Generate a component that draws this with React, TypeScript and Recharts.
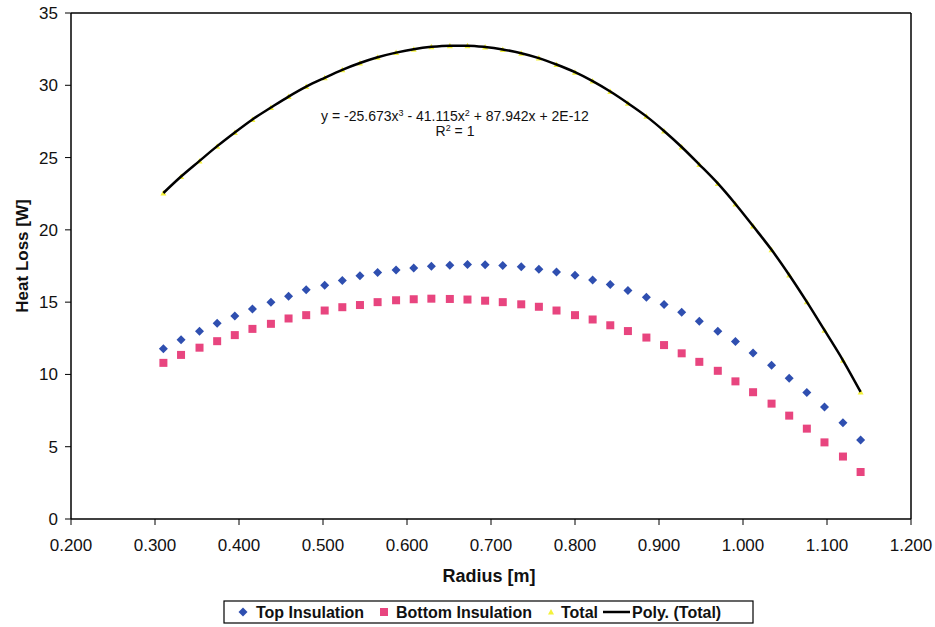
import { ScatterChart, Scatter, XAxis, YAxis, ReferenceLine } from 'recharts'

// radius [m] for each sample
const radius = [
  0.31, 0.331, 0.353, 0.374, 0.395, 0.416, 0.438, 0.459, 0.48, 0.502,
  0.523, 0.544, 0.565, 0.587, 0.608, 0.629, 0.651, 0.672, 0.693, 0.714,
  0.736, 0.757, 0.778, 0.8, 0.821, 0.842, 0.863, 0.885, 0.906, 0.927,
  0.948, 0.97, 0.991, 1.012, 1.034, 1.055, 1.076, 1.097, 1.119, 1.14,
]

const topInsulation = [
  11.78, 12.4, 12.98, 13.54, 14.04, 14.53, 15.0, 15.41, 15.85, 16.17,
  16.49, 16.82, 17.05, 17.22, 17.37, 17.48, 17.56, 17.6, 17.59, 17.53,
  17.45, 17.28, 17.09, 16.86, 16.54, 16.22, 15.8, 15.34, 14.83, 14.3,
  13.68, 12.98, 12.27, 11.48, 10.63, 9.73, 8.75, 7.74, 6.65, 5.47,
]

const bottomInsulation = [
  10.8, 11.35, 11.85, 12.3, 12.72, 13.15, 13.5, 13.87, 14.1, 14.42,
  14.65, 14.8, 15.0, 15.13, 15.2, 15.24, 15.22, 15.18, 15.1, 15.0,
  14.85, 14.68, 14.42, 14.1, 13.8, 13.4, 13.0, 12.55, 12.03, 11.46,
  10.87, 10.25, 9.52, 8.77, 7.98, 7.15, 6.25, 5.3, 4.32, 3.25,
]

const total = [
  22.55, 23.69, 24.77, 25.79, 26.74, 27.64, 28.46, 29.22, 29.91, 30.52,
  31.07, 31.54, 31.94, 32.26, 32.5, 32.66, 32.74, 32.74, 32.65, 32.48,
  32.22, 31.88, 31.44, 30.91, 30.29, 29.57, 28.76, 27.85, 26.84, 25.73,
  24.52, 23.21, 21.79, 20.26, 18.62, 16.88, 15.02, 13.06, 10.98, 8.79,
]

const xTicks = [0.2, 0.3, 0.4, 0.5, 0.6, 0.7, 0.8, 0.9, 1.0, 1.1, 1.2]
const yTicks = [0, 5, 10, 15, 20, 25, 30, 35]

const BLUE = '#2f4fb0'
const PINK = '#e8457f'
const YELLOW = '#f4f23a'
const FONT = '"Liberation Sans", Arial, sans-serif'

const toPoints = (ys: number[]) => radius.map((x, i) => ({ x, y: ys[i] }))

const Diamond = ({ cx, cy }: any) => (
  <path d={`M${cx},${cy - 4.5}L${cx + 4.5},${cy}L${cx},${cy + 4.5}L${cx - 4.5},${cy}Z`} fill={BLUE} />
)
const Square = ({ cx, cy }: any) => <rect x={cx - 4} y={cy - 4} width={8} height={8} fill={PINK} />
const Tri = ({ cx, cy }: any) => (
  <path d={`M${cx},${cy - 3}L${cx + 3},${cy + 2.5}L${cx - 3},${cy + 2.5}Z`} fill={YELLOW} />
)
const NoDot = () => <g />

const tickStyle = { fontSize: 17, fill: '#111', fontFamily: FONT }

export default function App() {
  return (
    <div style={{ position: 'absolute', left: 0, top: 0, width: 935, height: 627, background: '#fff' }}>
      <ScatterChart width={935} height={627} margin={{ top: 13, right: 24, bottom: 78, left: 11 }}>
        <XAxis
          type="number"
          dataKey="x"
          domain={[0.2, 1.2]}
          ticks={xTicks}
          tickFormatter={(v: number) => v.toFixed(3)}
          tick={tickStyle}
          tickSize={6}
          tickMargin={14}
          height={30}
          axisLine={{ stroke: '#000', strokeWidth: 1.5 }}
          tickLine={{ stroke: '#000' }}
        />
        <YAxis
          type="number"
          dataKey="y"
          domain={[0, 35]}
          ticks={yTicks}
          tick={tickStyle}
          tickSize={6}
          tickMargin={7}
          width={60}
          axisLine={{ stroke: '#000', strokeWidth: 1.5 }}
          tickLine={{ stroke: '#000' }}
        />
        <ReferenceLine y={35} stroke="#000" strokeWidth={1.5} />
        <ReferenceLine x={1.2} stroke="#000" strokeWidth={1.5} />
        <Scatter name="Total" data={toPoints(total)} shape={Tri} isAnimationActive={false} />
        <Scatter
          name="Poly. (Total)"
          data={toPoints(total)}
          line={{ stroke: '#000', strokeWidth: 2.5 }}
          lineJointType="monotoneX"
          shape={NoDot}
          isAnimationActive={false}
        />
        <Scatter name="Top Insulation" data={toPoints(topInsulation)} shape={Diamond} isAnimationActive={false} />
        <Scatter name="Bottom Insulation" data={toPoints(bottomInsulation)} shape={Square} isAnimationActive={false} />
      </ScatterChart>

      <svg
        width={935}
        height={627}
        style={{ position: 'absolute', left: 0, top: 0, pointerEvents: 'none', fontFamily: FONT }}
      >
        <text x={455} y={121} textAnchor="middle" fontSize={14} fill="#111">
          y = -25.673x<tspan dy={-5} fontSize={9}>3</tspan>
          <tspan dy={5}> - 41.115x</tspan>
          <tspan dy={-5} fontSize={9}>2</tspan>
          <tspan dy={5}> + 87.942x + 2E-12</tspan>
        </text>
        <text x={455} y={136} textAnchor="middle" fontSize={14} fill="#111">
          R<tspan dy={-5} fontSize={9}>2</tspan>
          <tspan dy={5}> = 1</tspan>
        </text>

        <text
          x={22}
          y={256}
          transform="rotate(-90 22 256)"
          textAnchor="middle"
          dominantBaseline="central"
          fontSize={17}
          fontWeight="bold"
          fill="#111"
        >
          Heat Loss [W]
        </text>
        <text x={489} y={582} textAnchor="middle" fontSize={18} fontWeight="bold" fill="#111">
          Radius [m]
        </text>

        <g fontSize={16} fontWeight="bold" fill="#111">
          <rect x={224} y={601} width={529} height={22} fill="#fff" stroke="#000" strokeWidth={1.2} />
          <Diamond cx={243} cy={612} />
          <text x={256} y={617.5}>Top Insulation</text>
          <Square cx={384} cy={612} />
          <text x={396} y={617.5}>Bottom Insulation</text>
          <Tri cx={551} cy={612} />
          <text x={561} y={617.5}>Total</text>
          <line x1={603} y1={612} x2={630} y2={612} stroke="#000" strokeWidth={2.5} />
          <text x={632} y={617.5}>Poly. (Total)</text>
        </g>
      </svg>
    </div>
  )
}
